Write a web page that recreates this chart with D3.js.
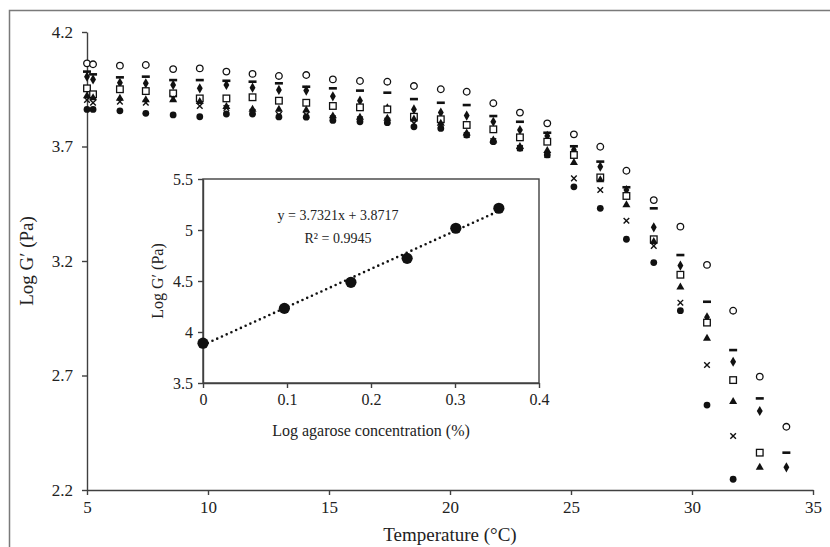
<!DOCTYPE html>
<html><head><meta charset="utf-8">
<script src="https://cdn.jsdelivr.net/npm/d3@7/dist/d3.min.js"></script>
<style>body{margin:0;background:#fff}svg{display:block}text{font-family:"Liberation Serif","Times New Roman",serif;fill:#222}</style>
</head><body><svg id="c" width="830" height="547"></svg>
<script>
const temps = [5.0, 5.25, 6.36, 7.43, 8.56, 9.66, 10.76, 11.84, 12.93, 14.06, 15.16, 16.28, 17.41, 18.51, 19.62, 20.69, 21.79, 22.89, 24.02, 25.12, 26.21, 27.29, 28.42, 29.52, 30.62, 31.7, 32.8, 33.9];
const sOpenCircle = [4.063,4.059,4.053,4.056,4.038,4.041,4.027,4.017,4.008,4.012,3.993,3.986,3.983,3.964,3.950,3.939,3.889,3.848,3.801,3.753,3.699,3.594,3.466,3.350,3.183,2.983,2.695,2.476];
const sDash = [4.027,4.015,4.002,4.005,3.990,3.990,3.987,3.983,3.976,3.961,3.954,3.944,3.935,3.907,3.891,3.881,3.833,3.808,3.760,3.701,3.634,3.522,3.430,3.226,3.022,2.811,2.600,2.363];
const sDiamond = [4.005,3.993,3.978,3.976,3.969,3.954,3.969,3.957,3.947,3.944,3.919,3.900,3.867,3.862,3.848,3.835,3.808,3.772,3.746,3.685,3.612,3.510,3.347,3.180,2.954,2.760,2.545,2.299];
const sSquare = [3.954,3.928,3.950,3.942,3.932,3.910,3.910,3.915,3.900,3.891,3.877,3.871,3.862,3.830,3.819,3.794,3.775,3.740,3.721,3.663,3.565,3.484,3.295,3.140,2.931,2.680,2.363];
const sTriangle = [3.921,3.912,3.910,3.903,3.903,3.896,3.874,3.862,3.862,3.859,3.833,3.827,3.823,3.819,3.801,3.758,3.728,3.699,3.682,3.629,3.554,3.445,3.284,3.086,2.862,2.586,2.299];
const sCross = [3.903,3.891,3.896,3.891,3.910,3.877,3.868,3.852,3.838,3.838,3.823,3.819,3.813,3.801,3.794,3.750,3.724,3.693,3.663,3.561,3.510,3.376,3.266,3.018,2.746,2.436];
const sDot = [3.862,3.862,3.856,3.845,3.838,3.830,3.842,3.842,3.829,3.828,3.814,3.808,3.804,3.786,3.779,3.750,3.721,3.692,3.663,3.524,3.430,3.295,3.193,2.983,2.571,2.247];
const xTicks = [5, 10, 15, 20, 25, 30, 35];
const yTicks = [2.2, 2.7, 3.2, 3.7, 4.2];

const insetX = [0, 0.0969, 0.1761, 0.2430, 0.3010, 0.3522];
const insetY = [3.890, 4.232, 4.487, 4.722, 5.017, 5.213];
const insetXTicks = [0, 0.1, 0.2, 0.3, 0.4];
const insetYTicks = [3.5, 4, 4.5, 5, 5.5];
const slope = 3.7321, intercept = 3.8717;

const svg = d3.select("#c");
const axisCol = "#404040";

svg.append("rect").attr("x", 9.5).attr("y", 10.5).attr("width", 840).attr("height", 560)
  .attr("fill", "none").attr("stroke", "#7a7a7a").attr("stroke-width", 1.5);

const x = d3.scaleLinear().domain([5, 35]).range([87, 813]);
const y = d3.scaleLinear().domain([2.2, 4.2]).range([490, 32]);

const gx = svg.append("g").attr("transform", "translate(0,490)")
  .call(d3.axisBottom(x).tickValues(xTicks).tickSize(5).tickSizeOuter(0).tickPadding(6));
const gy = svg.append("g").attr("transform", "translate(87,0)")
  .call(d3.axisLeft(y).tickValues(yTicks).tickFormat(d3.format(".1f")).tickSize(5).tickSizeOuter(0).tickPadding(9));
[gx, gy].forEach(g => {
  g.select(".domain").attr("stroke", axisCol).attr("stroke-width", 1.4);
  g.selectAll(".tick line").attr("stroke", axisCol).attr("stroke-width", 1.4);
  g.selectAll(".tick text").attr("font-size", 17).attr("font-family", "Liberation Serif").attr("fill", "#222");
});

svg.append("text").attr("x", 450).attr("y", 541).attr("text-anchor", "middle")
  .attr("font-size", 19).text("Temperature (°C)");
svg.append("text").attr("transform", "translate(33,261) rotate(-90)").attr("text-anchor", "middle")
  .attr("font-size", 19).text("Log G′ (Pa)");

const series = [
  {vals: sOpenCircle, type: "ocircle"},
  {vals: sDash, type: "dash"},
  {vals: sDiamond, type: "diamond"},
  {vals: sSquare, type: "square"},
  {vals: sTriangle, type: "triangle"},
  {vals: sCross, type: "cross"},
  {vals: sDot, type: "dot"}
];
const gm = svg.append("g");
series.forEach(s => {
  const pts = s.vals.map((v, i) => ({t: temps[i], v}));
  const sel = gm.selectAll(null).data(pts).enter();
  const tr = d => `translate(${x(d.t)},${y(d.v)})`;
  if (s.type === "ocircle") sel.append("circle").attr("transform", tr).attr("r", 3.3).attr("fill", "#fff").attr("stroke", "#111").attr("stroke-width", 1.3);
  if (s.type === "dot") sel.append("circle").attr("transform", tr).attr("r", 3.4).attr("fill", "#111");
  if (s.type === "dash") sel.append("rect").attr("transform", tr).attr("x", -4).attr("y", -1.3).attr("width", 8).attr("height", 2.6).attr("fill", "#111");
  if (s.type === "square") sel.append("rect").attr("transform", tr).attr("x", -3.3).attr("y", -3.3).attr("width", 6.6).attr("height", 6.6).attr("fill", "#fff").attr("stroke", "#111").attr("stroke-width", 1.3);
  if (s.type === "diamond") sel.append("path").attr("transform", tr).attr("d", d3.symbol(d3.symbolDiamond, 30)).attr("fill", "#111");
  if (s.type === "triangle") sel.append("path").attr("transform", tr).attr("d", d3.symbol(d3.symbolTriangle, 28)).attr("fill", "#111");
  if (s.type === "cross") sel.append("path").attr("transform", tr).attr("d", "M-2.8,-2.8L2.8,2.8M-2.8,2.8L2.8,-2.8").attr("stroke", "#111").attr("stroke-width", 1.4).attr("fill", "none");
});

const ix = d3.scaleLinear().domain([0, 0.4]).range([203, 539]);
const iy = d3.scaleLinear().domain([3.5, 5.5]).range([383, 179]);
svg.append("rect").attr("x", 203).attr("y", 179).attr("width", 336).attr("height", 204)
  .attr("fill", "#fff").attr("stroke", axisCol).attr("stroke-width", 1.4);
const igx = svg.append("g").attr("transform", "translate(0,383)")
  .call(d3.axisBottom(ix).tickValues(insetXTicks).tickFormat(d => d === 0 ? "0" : d3.format(".1f")(d)).tickSize(5).tickSizeOuter(0).tickPadding(6));
const igy = svg.append("g").attr("transform", "translate(203,0)")
  .call(d3.axisLeft(iy).tickValues(insetYTicks).tickFormat(d => Number.isInteger(d) ? String(d) : d3.format(".1f")(d)).tickSize(5).tickSizeOuter(0).tickPadding(5));
[igx, igy].forEach(g => {
  g.select(".domain").attr("stroke", axisCol).attr("stroke-width", 1.4);
  g.selectAll(".tick line").attr("stroke", axisCol).attr("stroke-width", 1.4);
  g.selectAll(".tick text").attr("font-size", 16).attr("font-family", "Liberation Serif").attr("fill", "#222");
});
svg.append("text").attr("x", 371).attr("y", 436).attr("text-anchor", "middle").attr("font-size", 16).text("Log agarose concentration (%)");
svg.append("text").attr("transform", "translate(163,281) rotate(-90)").attr("text-anchor", "middle").attr("font-size", 16).text("Log G′ (Pa)");

const x0 = d3.min(insetX), x1 = d3.max(insetX);
svg.append("line").attr("x1", ix(x0)).attr("y1", iy(intercept + slope * x0)).attr("x2", ix(x1)).attr("y2", iy(intercept + slope * x1))
  .attr("stroke", "#111").attr("stroke-width", 2.6).attr("stroke-linecap", "round").attr("stroke-dasharray", "0 5.2");
svg.selectAll(null).data(insetX.map((v, i) => [v, insetY[i]])).enter().append("circle")
  .attr("cx", d => ix(d[0])).attr("cy", d => iy(d[1])).attr("r", 5.6).attr("fill", "#111");

svg.append("text").attr("x", 338).attr("y", 220).attr("text-anchor", "middle").attr("font-size", 14).text(`y = ${slope}x + ${intercept}`);
svg.append("text").attr("x", 338).attr("y", 243).attr("text-anchor", "middle").attr("font-size", 14).text("R² = 0.9945");
</script></body></html>
